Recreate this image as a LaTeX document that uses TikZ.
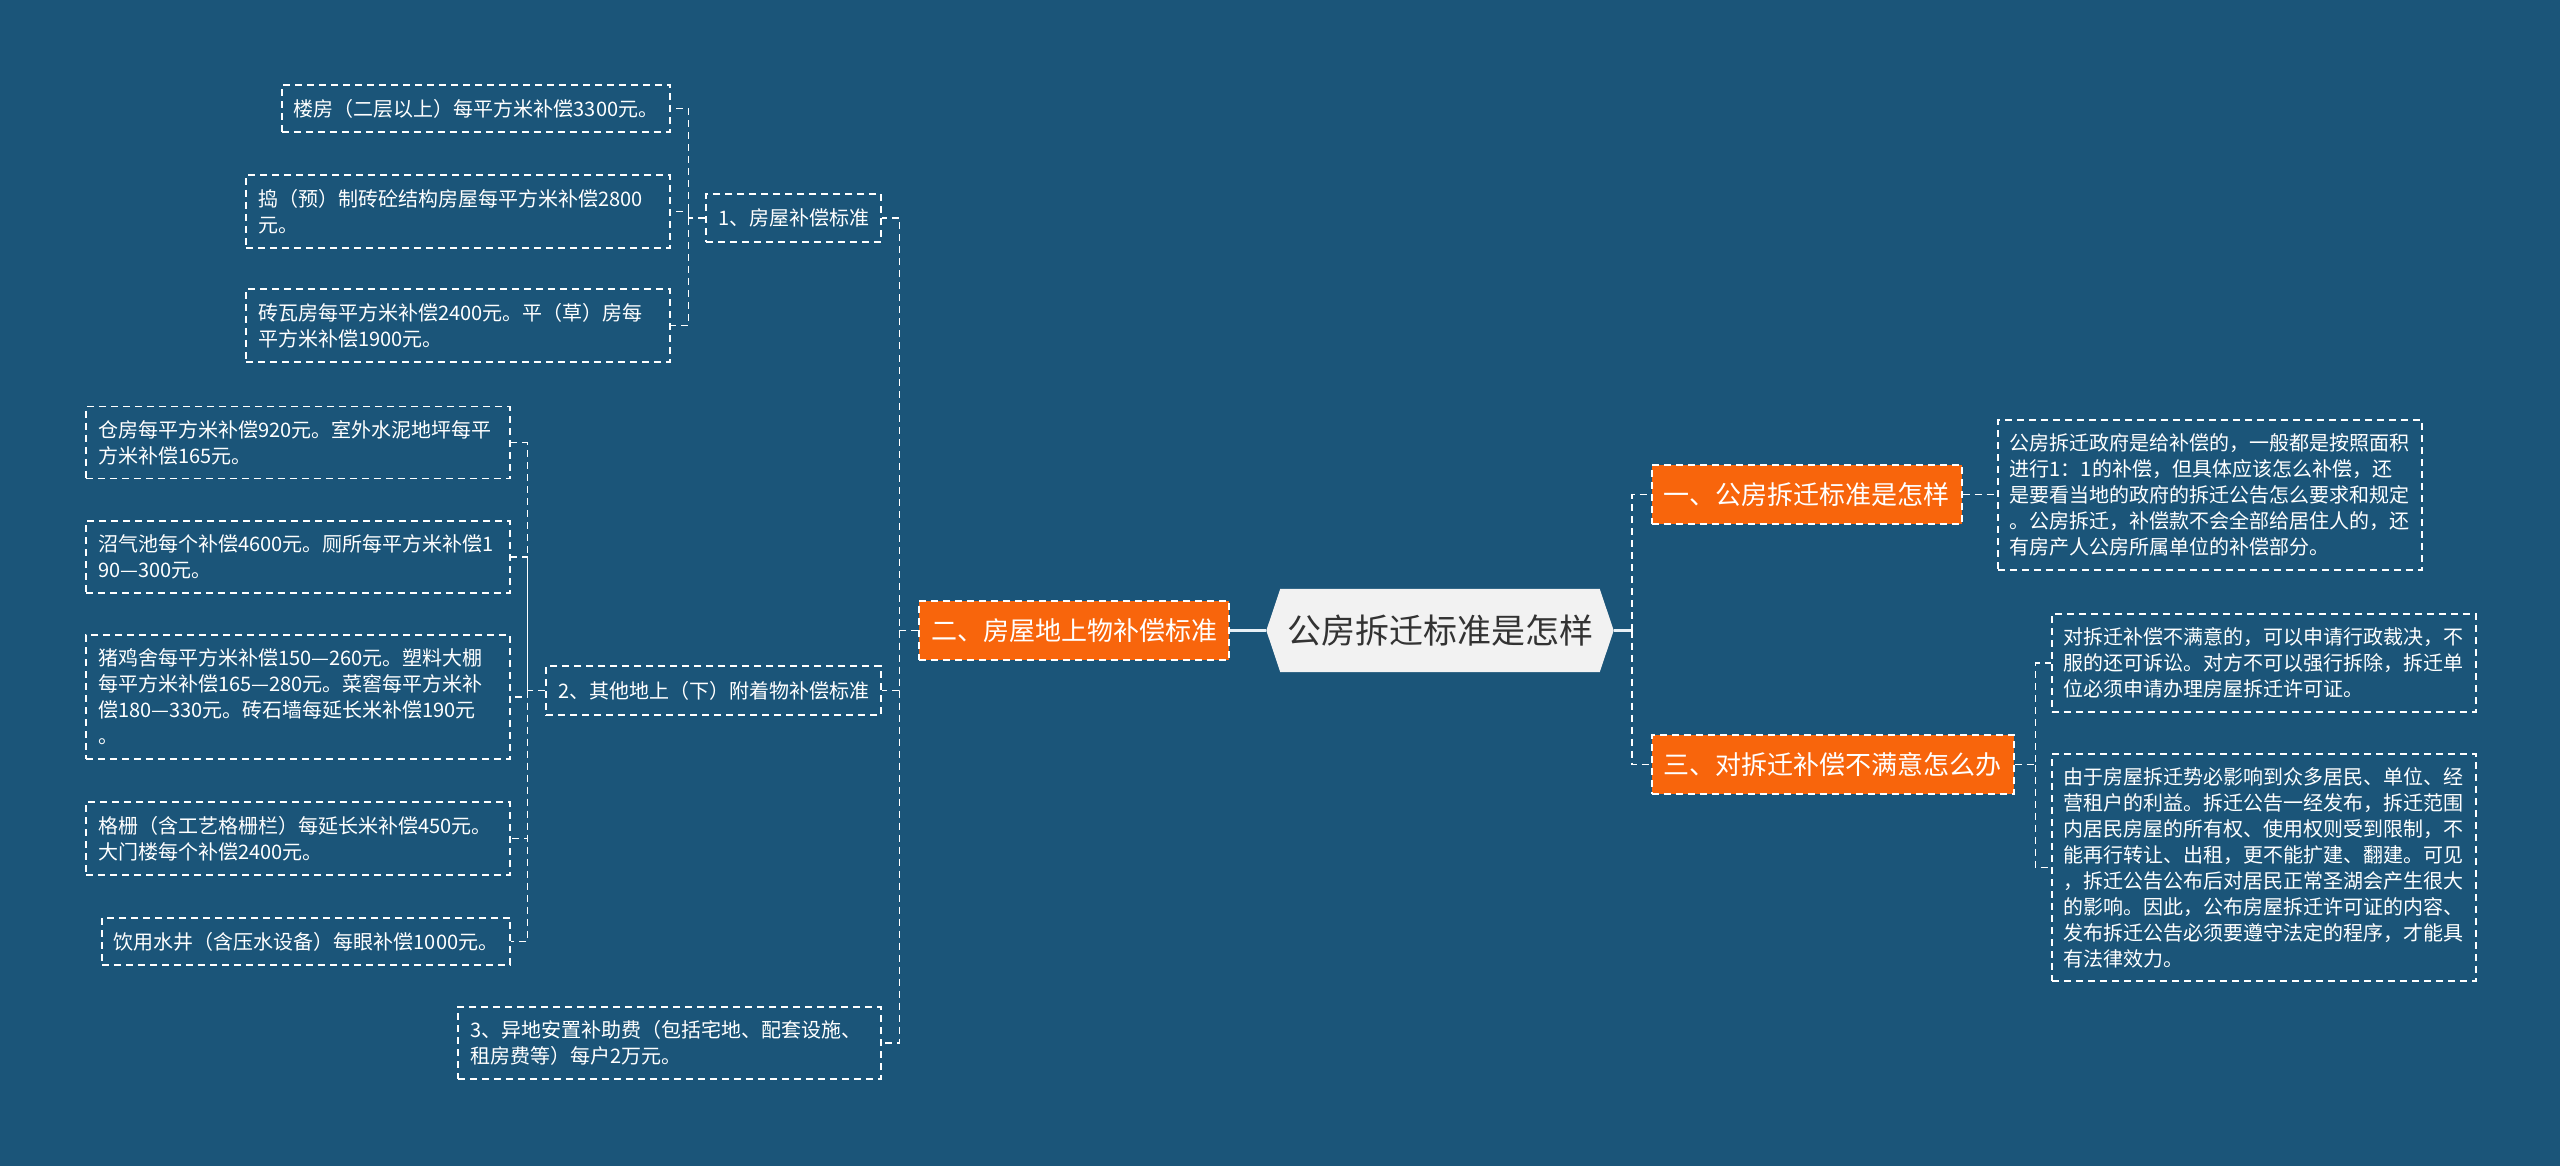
\documentclass[tikz,border=0pt]{standalone}
\usepackage{fontspec}
\setmainfont{Noto Sans CJK SC}
\usetikzlibrary{calc,backgrounds}
\definecolor{bg}{HTML}{1B5579}
\definecolor{org}{HTML}{F8650C}
\definecolor{rootfill}{HTML}{F2F2F2}
\definecolor{rootline}{HTML}{E8F0F6}
\definecolor{roottext}{HTML}{333333}
\begin{document}
\begin{tikzpicture}[x=1pt,y=-1pt,
  dsh/.style={draw=white, line width=1.6pt, dash pattern=on 7pt off 5pt},
  leaf/.style={dsh, text=white, font=\fontsize{20}{26}\selectfont, inner xsep=12pt, inner ysep=0pt, align=left},
  leafw/.style={leaf, text width=400pt},
  orangebox/.style={dsh, fill=org, text=white, font=\fontsize{26}{30}\selectfont, inner xsep=12pt, inner ysep=0pt, minimum height=59pt},
  link/.style={dsh},
  solidlink/.style={draw=rootline, line width=3pt}]
\useasboundingbox (0,0) rectangle (2560,1166);

% root
\node[font=\fontsize{34}{40}\selectfont, text=roottext, minimum width=319pt, minimum height=83pt, inner sep=0pt] (root) at (1440,630.5) {公房拆迁标准是怎样};

% main branches
\node[orangebox, anchor=east] (er) at (1230,630.5) {二、房屋地上物补偿标准};
\node[orangebox, anchor=west] (yi) at (1651,494.5) {一、公房拆迁标准是怎样};
\node[orangebox, anchor=west] (san) at (1651,764.5) {三、对拆迁补偿不满意怎么办};

% level 2 left
\node[leaf, anchor=east, minimum height=48pt] (c1) at (882,218) {1、房屋补偿标准};
\node[leaf, anchor=east, minimum height=49pt] (c2) at (882,690.5) {2、其他地上（下）附着物补偿标准};
\node[leaf, anchor=east, text width=399pt, minimum height=72pt] (c3) at (882,1043) {3、异地安置补助费（包括宅地、配套设施、\\租房费等）每户2万元。};

% leaves of c1
\node[leaf, anchor=east, minimum height=47pt] (l1a) at (671,108.5) {楼房（二层以上）每平方米补偿3300元。};
\node[leafw, anchor=east, minimum height=73pt] (l1b) at (671,211.5) {捣（预）制砖砼结构房屋每平方米补偿2800\\元。};
\node[leafw, anchor=east, minimum height=73pt] (l1c) at (671,325.5) {砖瓦房每平方米补偿2400元。平（草）房每\\平方米补偿1900元。};

% leaves of c2
\node[leafw, anchor=east, minimum height=72pt] (l2a) at (511,442.5) {仓房每平方米补偿920元。室外水泥地坪每平\\方米补偿165元。};
\node[leafw, anchor=east, minimum height=72pt] (l2b) at (511,557) {沼气池每个补偿4600元。厕所每平方米补偿1\\90—300元。};
\node[leafw, anchor=east, minimum height=124pt] (l2c) at (511,697) {猪鸡舍每平方米补偿150—260元。塑料大棚\\每平方米补偿165—280元。菜窖每平方米补\\偿180—330元。砖石墙每延长米补偿190元\\。};
\node[leafw, anchor=east, minimum height=73pt] (l2d) at (511,838.5) {格栅（含工艺格栅栏）每延长米补偿450元。\\大门楼每个补偿2400元。};
\node[leaf, anchor=east, minimum height=47pt] (l2e) at (511,941.5) {饮用水井（含压水设备）每眼补偿1000元。};

% right leaves
\node[leafw, anchor=west, minimum height=150pt] (r1) at (1997,495) {公房拆迁政府是给补偿的，一般都是按照面积\\进行1：1的补偿，但具体应该怎么补偿，还\\是要看当地的政府的拆迁公告怎么要求和规定\\。公房拆迁，补偿款不会全部给居住人的，还\\有房产人公房所属单位的补偿部分。};
\node[leafw, anchor=west, minimum height=98pt] (r2) at (2051,663) {对拆迁补偿不满意的，可以申请行政裁决，不\\服的还可诉讼。对方不可以强行拆除，拆迁单\\位必须申请办理房屋拆迁许可证。};
\node[leafw, anchor=west, minimum height=227pt] (r3) at (2051,867.5) {由于房屋拆迁势必影响到众多居民、单位、经\\营租户的利益。拆迁公告一经发布，拆迁范围\\内居民房屋的所有权、使用权则受到限制，不\\能再行转让、出租，更不能扩建、翻建。可见\\，拆迁公告公布后对居民正常圣湖会产生很大\\的影响。因此，公布房屋拆迁许可证的内容、\\发布拆迁公告必须要遵守法定的程序，才能具\\有法律效力。};

% background and root shape
\begin{scope}[on background layer]
  \fill[bg] (0,0) rectangle (2560,1166);
  \fill[rootfill] (root.north west) -- (root.north east) -- ($(root.east)+(14,0)$) -- (root.south east) -- (root.south west) -- ($(root.west)+(-14,0)$) -- cycle;
\end{scope}

% connectors from root
\draw[solidlink] ($(root.west)+(-14,0)$) -- (er.east);
\draw[solidlink] ($(root.east)+(14,0)$) -- ++(18,0) coordinate (rs);
\draw[link] (rs) |- (yi.west);
\draw[link] (rs) |- (san.west);

% left spine
\draw[link] (er.west) -- ++(-19,0) coordinate (ls) |- (c1.east);
\draw[link] (ls) |- (c2.east);
\draw[link] (ls) |- (c3.east);

% c1 children
\draw[link] (c1.west) -- ++(-17,0) coordinate (s1) |- (l1a.east);
\draw[link] (s1) |- (l1b.east);
\draw[link] (s1) |- (l1c.east);

% c2 children
\draw[link] (c2.west) -- ++(-18,0) coordinate (s2) |- (l2a.east);
\draw[link] (s2) |- (l2b.east);
\draw[link] (s2) |- (l2c.east);
\draw[link] (s2) |- (l2d.east);
\draw[link] (s2) |- (l2e.east);

% right children
\draw[link] (yi.east) -- (yi.east -| r1.west);
\draw[link] (san.east) -- ++(21,0) coordinate (s3) |- (r2.west);
\draw[link] (s3) |- (r3.west);
\end{tikzpicture}
\end{document}
